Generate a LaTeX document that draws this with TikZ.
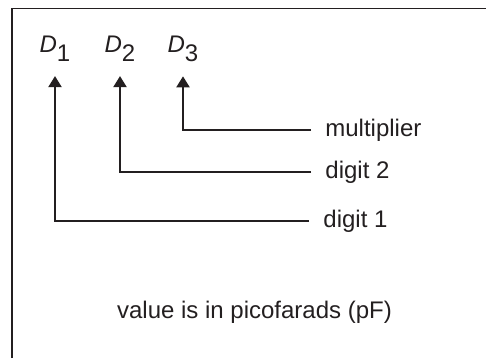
\documentclass[tikz,border=0pt]{standalone}
\usepackage{fontspec}
\setmainfont{Liberation Sans}
\usepackage{tikz}
\usetikzlibrary{arrows.meta,calc,positioning}
\definecolor{ink}{RGB}{35,31,32}
\tikzset{
	arr/.style={
		-{Triangle[width=6.5pt,length=5.5pt]},
		line width=1pt,
		draw=ink,
		shorten <=7pt,
		shorten >=3.5pt,},
	lab/.style={
		inner sep=0pt,
		anchor=west,
		text=ink,
		font=\fontsize{12}{14}\selectfont},
	dig/.style={
		anchor=base,
		text=ink,
		font=\fontsize{12}{14}\selectfont},
	frame/.style={
		draw=ink,
		line width=0.75pt}
}
\newcommand{\dname}[1]{\textit{D}\raisebox{-4.5pt}{#1}}

\begin{document}
\begin{tikzpicture}[x=0.5pt,y=0.5pt,yscale=-1,xscale=1]
\useasboundingbox (0,0) rectangle (486,358);
\draw [frame] (12,358) -- (12,8.5) -- (486,8.5) ;

% Text Node
\node [dig] (d1) at (55,53) {\dname{1}};
% Text Node
\node [dig] (d2) at (120,53) {\dname{2}};
% Text Node
\node [dig] (d3) at (183,53) {\dname{3}};
% Text Node
\node [lab] (l3) at (325,130) {multiplier};
% Text Node
\node [lab] (l2) at (325,172) {digit 2};
% Text Node
\node [lab] (l1) at (323,221) {digit 1};
% Text Node
\node [dig] (note) at (254.5,318) {value is in picofarads (pF)};

\draw [arr] (l3.west) -| (d3.south) ;
\draw [arr] (l2.west) -| (d2.south) ;
\draw [arr] (l1.west) -| (d1.south) ;
\end{tikzpicture}
\end{document}
